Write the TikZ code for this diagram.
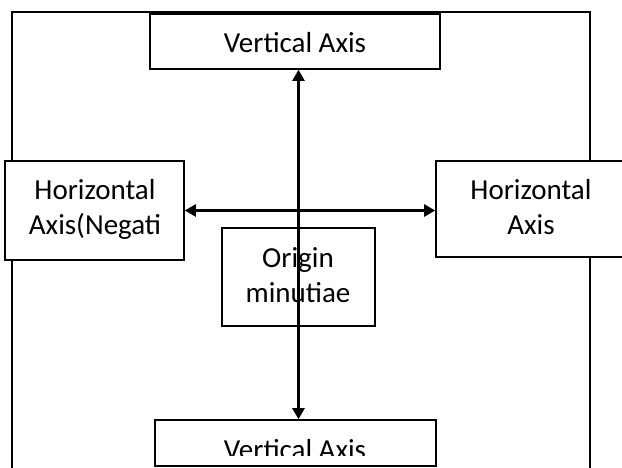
\documentclass[tikz,border=0pt]{standalone}
\usepackage{fontspec}
\setmainfont{Carlito}
\usetikzlibrary{arrows.meta}
\begin{document}
\begin{tikzpicture}[x=1pt,y=-1pt,
  box/.style={draw, line width=1.6pt, inner sep=0pt, fill=white},
  lbl/.style={anchor=base, inner sep=0pt, font=\fontsize{29}{35}\selectfont},
  frameline/.style={line width=2pt},
  axisline/.style={line width=2.4pt, {Triangle[length=11pt,width=12pt]}-{Triangle[length=11pt,width=12pt]}}]
\useasboundingbox (0,0) rectangle (622,468);
\clip (0,0) rectangle (622,468);
\fill[white] (0,0) rectangle (622,468);
% outer frame
\coordinate (fbl) at (12,472);
\coordinate (ftl) at (12,12);
\coordinate (ftr) at (590,12);
\coordinate (fbr) at (590,472);
\draw[frameline] (fbl) -- (ftl) -- (ftr) -- (fbr);
% boxes
\node[box, minimum width=290pt, minimum height=55pt] (top) at (295,41.5) {};
\node[box, minimum width=179pt, minimum height=99pt] (left) at (94.5,210.5) {};
\node[box, minimum width=190pt, minimum height=96pt] (right) at (531,209) {};
\node[box, minimum width=153pt, minimum height=98pt] (origin) at (298.5,277) {};
\node[box, minimum width=281pt, minimum height=46pt] (bot) at (295.5,443) {};
% labels
\node[lbl] (toptext) at (295,53) {Vertical Axis};
\node[lbl] (left1) at (95,200) {Horizontal};
\node[lbl] (left2) at (95,234.5) {Axis(Negati};
\node[lbl] (right1) at (531,200) {Horizontal};
\node[lbl] (right2) at (531,234.5) {Axis};
\node[lbl] (orig1) at (298,267.5) {Origin};
\node[lbl] (orig2) at (298,302.5) {minutiae};
\begin{scope}
\clip (155,420) rectangle (436,455);
\node[lbl] (bottext) at (295,459) {Vertical Axis};
\end{scope}
% axes
\draw[axisline] (top.south -| origin) -- (bot.north -| origin);
\draw[axisline] (left.east) -- (left.east -| right.west);
\end{tikzpicture}
\end{document}
